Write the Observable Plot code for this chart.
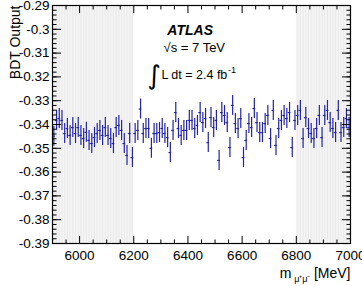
<!DOCTYPE html>
<html><head><meta charset="utf-8">
<script src="https://cdn.jsdelivr.net/npm/d3@7"></script>
<script src="https://cdn.jsdelivr.net/npm/@observablehq/plot@0.6"></script>
<style>
html,body{margin:0;padding:0;background:#fff;}
#chart svg{display:block;}
</style></head><body><div id="chart"></div>
<script>
// Dimuon invariant-mass bin centres (MeV)
const massBins = [
  5905,5915,5925,5935,5945,5955,5965,5975,5985,5995,
  6005,6015,6025,6035,6045,6055,6065,6075,6085,6095,
  6105,6115,6125,6135,6145,6155,6165,6175,6185,6195,
  6205,6215,6225,6235,6245,6255,6265,6275,6285,6295,
  6305,6315,6325,6335,6345,6355,6365,6375,6385,6395,
  6405,6415,6425,6435,6445,6455,6465,6475,6485,6495,
  6505,6515,6525,6535,6545,6555,6565,6575,6585,6595,
  6605,6615,6625,6635,6645,6655,6665,6675,6685,6695,
  6705,6715,6725,6735,6745,6755,6765,6775,6785,6795,
  6805,6815,6825,6835,6845,6855,6865,6875,6885,6895,
  6905,6915,6925,6935,6945,6955,6965,6975,6985,6995
];
// Mean BDT output in each mass bin
const bdtMean = [
  -0.3449,-0.3383,-0.3375,-0.3383,-0.3438,-0.3417,-0.3446,-0.3413,-0.3438,-0.3413,
  -0.3446,-0.3459,-0.3433,-0.3467,-0.3480,-0.3455,-0.3438,-0.3425,-0.3446,-0.3413,
  -0.3446,-0.3459,-0.3480,-0.3413,-0.3404,-0.3425,-0.3480,-0.3530,-0.3438,-0.3539,
  -0.3438,-0.3425,-0.3335,-0.3438,-0.3417,-0.3417,-0.3500,-0.3438,-0.3438,-0.3434,
  -0.3417,-0.3438,-0.3455,-0.3518,-0.3425,-0.3350,-0.3417,-0.3446,-0.3425,-0.3425,
  -0.3383,-0.3383,-0.3417,-0.3404,-0.3350,-0.3392,-0.3375,-0.3476,-0.3371,-0.3413,
  -0.3383,-0.3551,-0.3350,-0.3362,-0.3392,-0.3497,-0.3320,-0.3396,-0.3417,-0.3375,
  -0.3539,-0.3467,-0.3396,-0.3413,-0.3333,-0.3392,-0.3434,-0.3434,-0.3396,-0.3362,
  -0.3459,-0.3341,-0.3488,-0.3417,-0.3383,-0.3362,-0.3375,-0.3350,-0.3497,-0.3383,
  -0.3362,-0.3341,-0.3459,-0.3371,-0.3417,-0.3438,-0.3459,-0.3417,-0.3362,-0.3455,
  -0.3362,-0.3341,-0.3392,-0.3417,-0.3434,-0.3341,-0.3434,-0.3413,-0.3375,-0.3413
];
// Statistical uncertainty on each bin mean
const bdtError = 0.0042;

// Sideband mass windows (MeV)
const sidebandLo = [5900, 6800];
const sidebandHi = [6200, 7000];

// Axis ticks
const xMajor = [6000, 6200, 6400, 6600, 6800, 7000];
const xMinor = d3.range(5900, 7001, 50).filter(d => !xMajor.includes(d));
const yMajor = [-0.39, -0.38, -0.37, -0.36, -0.35, -0.34, -0.33, -0.32, -0.31, -0.3, -0.29];
const yMinor = d3.range(-390, -289, 2).map(d => d / 1000);

const points = massBins.map((m, i) => ({m, v: bdtMean[i], e: bdtError}));
const sidebands = sidebandLo.map((lo, i) => ({lo, hi: sidebandHi[i]}));
const hatch = sidebands.flatMap(s => d3.range(s.lo + 5, s.hi, 10));

const blue = "#2424a2";
const font = "'Liberation Sans', Arial, sans-serif";
const noText = () => "";

const chart = Plot.plot({
  width: 362,
  height: 286,
  marginLeft: 52,
  marginRight: 12,
  marginTop: 5,
  marginBottom: 43,
  style: {fontFamily: font, fontSize: "13.5px", color: "black", background: "white"},
  x: {domain: [5900, 7000]},
  y: {domain: [-0.39, -0.29]},
  marks: [
    // shaded sidebands with fine vertical hatching
    Plot.rectX(sidebands, {x1: "lo", x2: "hi", fill: "#f5f5f5"}),
    Plot.ruleX(hatch, {stroke: "#e6e6e6", strokeWidth: 0.8}),
    // error bars and central values
    Plot.ruleX(points, {x: "m", y1: d => d.v - d.e, y2: d => d.v + d.e, stroke: blue, strokeWidth: 1.2}),
    Plot.ruleY(points, {y: "v", x1: d => d.m - 5, x2: d => d.m + 5, stroke: blue, strokeWidth: 1.2}),
    // axes: labels
    Plot.axisX(xMajor, {anchor: "bottom", tickSize: 0, tickPadding: 7, tickFormat: d => String(d), label: null}),
    Plot.axisY(yMajor, {anchor: "left", tickSize: 0, tickPadding: 3, tickFormat: d => String(d), label: null}),
    // inward ticks on all four sides
    Plot.axisX(xMajor, {anchor: "bottom", tickSize: -7, tickFormat: noText, label: null}),
    Plot.axisX(xMinor, {anchor: "bottom", tickSize: -3.5, tickFormat: noText, label: null}),
    Plot.axisX(xMajor, {anchor: "top", tickSize: -7, tickFormat: noText, label: null}),
    Plot.axisX(xMinor, {anchor: "top", tickSize: -3.5, tickFormat: noText, label: null}),
    Plot.axisY(yMajor, {anchor: "left", tickSize: -9, tickFormat: noText, label: null}),
    Plot.axisY(yMinor, {anchor: "left", tickSize: -4.5, tickFormat: noText, label: null}),
    Plot.axisY(yMajor, {anchor: "right", tickSize: -9, tickFormat: noText, label: null}),
    Plot.axisY(yMinor, {anchor: "right", tickSize: -4.5, tickFormat: noText, label: null}),
    Plot.frame({stroke: "black", strokeWidth: 1.2}),
    // axis titles
    Plot.text(["BDT Output"], {frameAnchor: "top-left", rotate: -90, textAnchor: "end", dx: -42, fontSize: 14}),
    Plot.text(["[MeV]"], {frameAnchor: "bottom-right", textAnchor: "end", dy: 34, fontSize: 14}),
    Plot.text(["μ⁺μ⁻"], {frameAnchor: "bottom-right", textAnchor: "end", dx: -40, dy: 38, fontSize: 9}),
    Plot.text(["m"], {frameAnchor: "bottom-right", textAnchor: "end", dx: -59, dy: 34, fontSize: 14}),
    // experiment label
    Plot.text(["ATLAS"], {x: 6324, y: -0.3005, textAnchor: "start", fontSize: 14, fontWeight: "bold", fontStyle: "italic"}),
    Plot.text(["√s = 7 TeV"], {x: 6310, y: -0.3079, textAnchor: "start", fontSize: 13}),
    Plot.text(["∫"], {x: 6275, y: -0.3194, textAnchor: "middle", fontSize: 26, fontFamily: "DejaVu Sans"}),
    Plot.text(["L dt = 2.4 fb"], {x: 6302, y: -0.3194, textAnchor: "start", fontSize: 12.5}),
    Plot.text(["-1"], {x: 6548, y: -0.3171, textAnchor: "start", fontSize: 9})
  ]
});
document.getElementById("chart").appendChild(chart);
</script>
</body></html>
